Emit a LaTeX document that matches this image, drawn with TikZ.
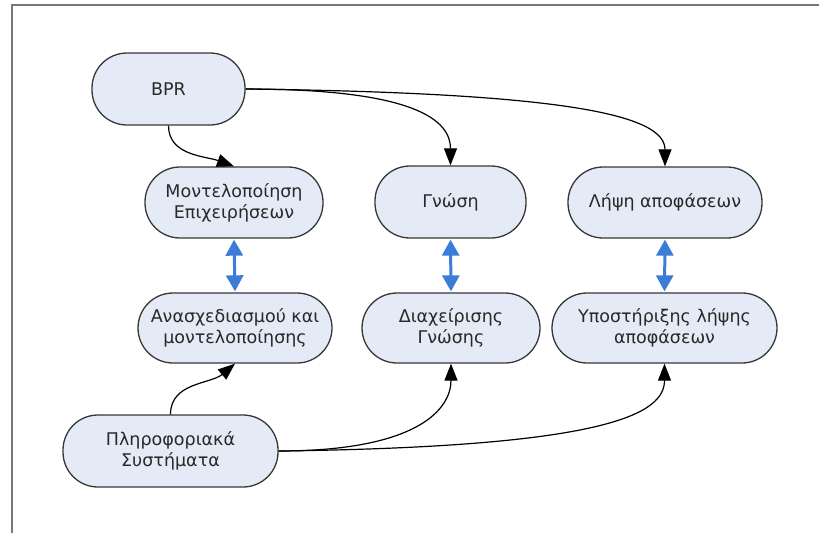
\documentclass[tikz,border=0pt]{standalone}
\usepackage{fontspec}
\setmainfont{DejaVu Sans}
\usetikzlibrary{arrows.meta}
\definecolor{boxfill}{RGB}{228,235,247}
\definecolor{boxline}{RGB}{55,55,55}
\definecolor{txt}{RGB}{40,40,40}
\definecolor{linkblue}{RGB}{58,124,214}
\definecolor{framegray}{RGB}{120,120,120}
\tikzset{
  pill/.style={draw=boxline, line width=1.3pt, fill=boxfill, rounded corners=35pt,
    align=center, text=txt, font=\fontsize{17.5}{21}\selectfont, inner sep=0pt},
  flow/.style={draw=black, line width=1.2pt, -{Triangle[length=17pt,width=13pt]}},
  bothway/.style={draw=linkblue, line width=3pt,
    {Triangle[length=16pt,width=17pt]}-{Triangle[length=16pt,width=17pt]}, shorten <=1pt, shorten >=1pt},
}
\begin{document}
\begin{tikzpicture}[x=1pt,y=-1pt]
\useasboundingbox (0,0) rectangle (819,533);
% frame edges
\draw[framegray, line width=1.6pt] (12,533) -- (12,5) -- (819,5);

\node[pill, minimum width=153pt, minimum height=72pt] (bpr) at (168.5,89) {BPR};
\node[pill, minimum width=178pt, minimum height=71pt] (mont) at (234,202.5) {Μοντελοποίηση\\Επιχειρήσεων};
\node[pill, minimum width=151pt, minimum height=72pt] (gn) at (450.5,202) {Γνώση};
\node[pill, minimum width=194pt, minimum height=71pt] (lip) at (665,202.5) {Λήψη αποφάσεων};
\node[pill, minimum width=194pt, minimum height=70pt] (anas) at (235,328) {Ανασχεδιασμού και\\μοντελοποίησης};
\node[pill, minimum width=178pt, minimum height=70pt] (diax) at (451,328) {Διαχείρισης\\Γνώσης};
\node[pill, minimum width=225pt, minimum height=70pt] (ypo) at (664.5,328) {Υποστήριξης λήψης\\αποφάσεων};
\node[pill, minimum width=215pt, minimum height=72pt] (pli) at (170.5,451) {Πληροφοριακά\\Συστήματα};

% top row links
\draw[flow] (bpr.south) to[out=-90,in=160] (mont.north);
\draw[flow] (bpr.east) .. controls +(170,0) and +(0,-45) .. (gn.north);
\draw[flow] (bpr.east) .. controls +(330,4) and +(0,-50) .. (lip.north);

% links between the rows
\draw[bothway] (mont.south) -- (anas.north);
\draw[bothway] (gn.south) -- (diax.north);
\draw[bothway] (lip.south) -- (ypo.north);

% bottom row links
\draw[flow] (pli.north) to[out=90,in=-140] (anas.south);
\draw[flow] (pli.east) .. controls +(140,0) and +(0,45) .. (diax.south);
\draw[flow] (pli.east) .. controls +(330,-4) and +(0,50) .. (ypo.south);
\end{tikzpicture}
\end{document}
